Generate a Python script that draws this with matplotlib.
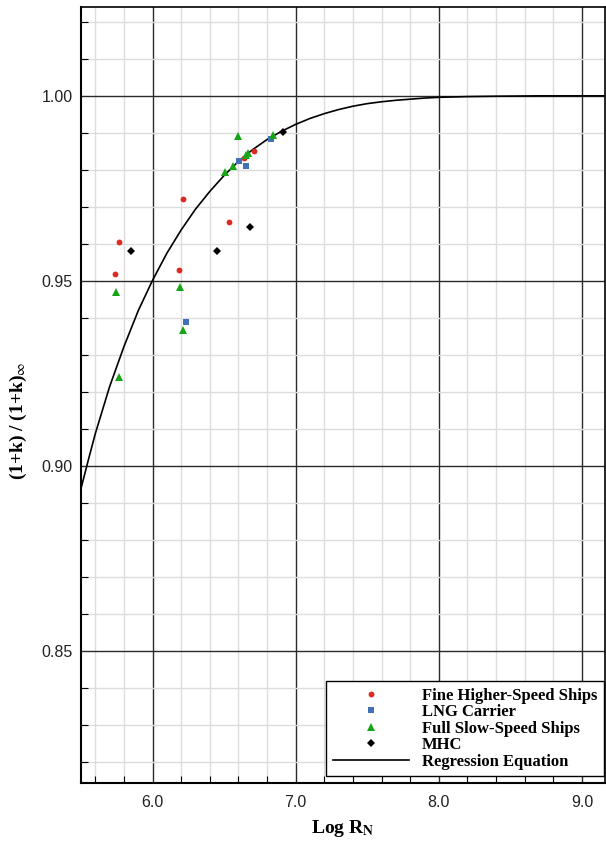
import numpy as np
import matplotlib
matplotlib.use("Agg")
import matplotlib.pyplot as plt
from matplotlib.ticker import MultipleLocator, FixedLocator


# data
# ----------
fine_x = [5.735, 5.763, 6.183, 6.211, 6.532, 6.640, 6.710]
fine_y = [0.9520, 0.9604, 0.9529, 0.9722, 0.9660, 0.9832, 0.9852]

lng_x = [6.232, 6.603, 6.650, 6.827]
lng_y = [0.9390, 0.9825, 0.9810, 0.9884]

full_x = [5.742, 5.765, 6.192, 6.213, 6.505, 6.564, 6.594, 6.650, 6.668, 6.843]
full_y = [0.9470, 0.9240, 0.9485, 0.9368, 0.9794, 0.9810, 0.9891, 0.9841, 0.9846, 0.9893]

mhc_x = [5.847, 6.448, 6.680, 6.913]
mhc_y = [0.9581, 0.9581, 0.9647, 0.9902]

# regression curve, points
reg_x = [5.50, 5.55, 5.60, 5.70, 5.80, 5.90, 6.00, 6.10, 6.20, 6.30, 6.40,
         6.50, 6.60, 6.70, 6.80, 6.90, 7.00, 7.10, 7.20, 7.30, 7.40, 7.50,
         7.60, 7.70, 7.80, 7.90, 8.00, 8.20, 8.40, 8.70, 9.16]
reg_y = [0.8940, 0.9015, 0.9088, 0.9215, 0.9323, 0.9420, 0.9502, 0.9575,
         0.9638, 0.9694, 0.9742, 0.9785, 0.9823, 0.9855, 0.9882, 0.9904,
         0.9923, 0.9939, 0.9952, 0.9963, 0.9972, 0.9979, 0.9984, 0.9988,
         0.9991, 0.9994, 0.9996, 0.9998, 0.9999, 1.0000, 1.0000]

x_ticks = [6.0, 7.0, 8.0, 9.0]
x_ticklabels = ["6.0", "7.0", "8.0", "9.0"]
y_ticks = [0.85, 0.90, 0.95, 1.00]
y_ticklabels = ["0.85", "0.90", "0.95", "1.00"]

# plot settings
# ----------
plt.rcParams["mathtext.fontset"] = "stix"

fig = plt.figure(figsize=(6.06, 8.41), dpi=100)
ax = fig.add_axes([0.1337, 0.0684, 0.8643, 0.9233])

color_minor = "#dcdcdc"
color_major = "#2a2a2a"

ax.set_xlim(5.5, 9.16)
ax.set_ylim(0.8143, 1.024)

ax.xaxis.set_major_locator(FixedLocator(x_ticks))
ax.xaxis.set_minor_locator(MultipleLocator(0.2))
ax.yaxis.set_major_locator(FixedLocator(y_ticks))
ax.yaxis.set_minor_locator(MultipleLocator(0.01))
ax.set_xticklabels(x_ticklabels)
ax.set_yticklabels(y_ticklabels)

ax.grid(True, which="minor", color=color_minor, lw=1.0, zorder=0)
ax.grid(True, which="major", color=color_major, lw=1.0, zorder=0.5)
ax.set_axisbelow(True)

ax.tick_params(which="both", direction="in", top=False, right=False,
               color="black", width=0.8)
ax.tick_params(which="major", length=0)
ax.tick_params(which="minor", length=5)
ax.tick_params(axis="x", which="major", pad=8)
ax.tick_params(axis="y", which="major", pad=6)
for lbl in ax.get_xticklabels() + ax.get_yticklabels():
    lbl.set_family("Liberation Sans")
    lbl.set_fontsize(11.5)
    lbl.set_color("#222222")

for side in ["left", "bottom"]:
    ax.spines[side].set_linewidth(1.5)
for side in ["top", "right"]:
    ax.spines[side].set_linewidth(1.2)

ax.set_xlabel(r"Log R$_\mathbf{N}$", family="Liberation Serif",
              fontweight="bold", fontsize=14)
ax.set_ylabel(r"(1+k) / (1+k)$_\infty$", family="Liberation Serif",
              fontweight="bold", fontsize=14)
ax.xaxis.set_label_coords(0.5, -0.045)
ax.yaxis.set_label_coords(-0.10, 0.467)

# plot
# ----------
reg_line, = ax.plot(reg_x, reg_y, color="black", lw=1.2, zorder=2,
                    label="Regression Equation")
h1, = ax.plot(fine_x, fine_y, "o", color="#dd2a22", ms=4.2, mew=0, zorder=3,
              label="Fine Higher-Speed Ships")
h2, = ax.plot(lng_x, lng_y, "s", color="#3f70b8", ms=4.2, mew=0, zorder=3,
              label="LNG Carrier")
h3, = ax.plot(full_x, full_y, "^", color="#16a516", ms=5.8, mew=0, zorder=4,
              label="Full Slow-Speed Ships")
h4, = ax.plot(mhc_x, mhc_y, "D", color="black", ms=4.0, mew=0, zorder=4,
              label="MHC")

leg = ax.legend(handles=[h1, h2, h3, h4, reg_line], loc="lower right",
                bbox_to_anchor=(0.998, 0.009), borderaxespad=0,
                fancybox=False, framealpha=1, edgecolor="black",
                handlelength=4.6, markerscale=1.0, labelspacing=0.03,
                borderpad=0.4, handletextpad=0.75,
                prop={"family": "Liberation Serif", "weight": "bold",
                      "size": 12})
leg.get_frame().set_linewidth(1.0)
leg.set_zorder(10)

# save
# ----------
fig.savefig("out.png", dpi=100)
